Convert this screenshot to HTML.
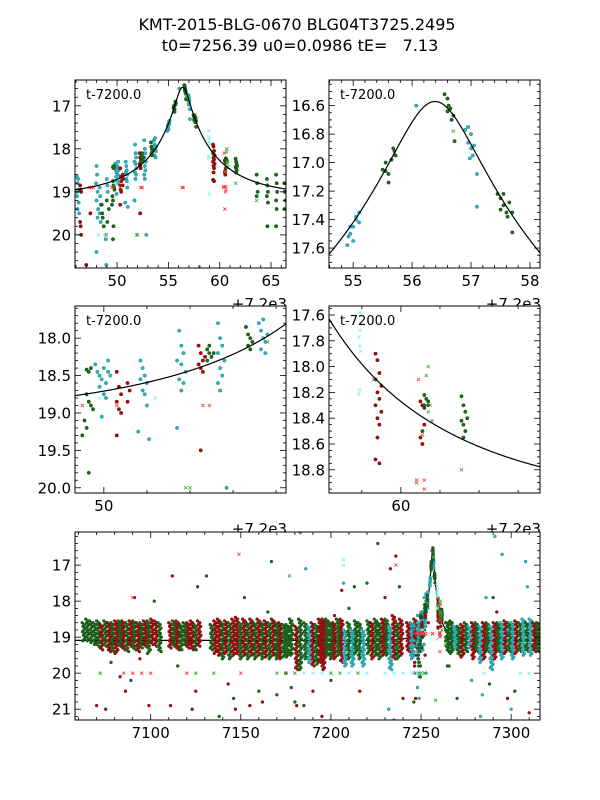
<!DOCTYPE html>
<html><head><meta charset="utf-8"><style>
html,body{margin:0;padding:0;background:#fff;}
svg{display:block;font-family:"DejaVu Sans","Liberation Sans",sans-serif;}
</style></head><body>
<svg id="fig" width="600" height="800" viewBox="0 0 600 800" xmlns="http://www.w3.org/2000/svg">
<rect width="600" height="800" fill="#fff"/>
<text x="297" y="30" font-size="16" text-anchor="middle">KMT-2015-BLG-0670 BLG04T3725.2495</text>
<text x="300" y="51" font-size="16" text-anchor="middle" xml:space="preserve">t0=7256.39 u0=0.0986 tE=   7.13</text>
</svg>
<script>
// model parameters
const t0 = 7256.39, u0 = 0.0986, tE = 7.13, mBase = 19.09;
// event points (t-7200, mag)
const cyanPts = [[46.1,18.65],[46.15,18.8],[46.2,18.95],[46.1,19.1],[46.25,19.25],[46.15,19.4],[46.2,18.7],[46.1,19.0],[46.3,19.5],
[48.0,18.4],[48.05,18.6],[47.95,18.8],[48.1,19.0],[48.0,19.2],[48.15,19.4],[48.1,19.6],[48.0,20.4],
[48.3,18.9],[48.35,19.1],[48.4,19.3],[48.3,19.5],[48.4,19.7],[48.9,20.1],[48.95,20.7],
[49.0,18.7],[49.05,18.85],[49.1,19.0],
[49.8,18.35],[49.85,18.45],[49.9,18.5],[49.95,18.55],[50.0,18.4],[50.05,18.6],[50.1,18.3],[50.15,18.5],[49.9,18.65],[50.0,18.75],[50.1,18.45],[50.05,18.8],[49.95,19.05],
[50.85,18.3],[50.9,18.4],[50.95,18.5],[50.85,18.55],[51.0,18.6],[50.9,18.7],[50.95,18.75],[51.0,18.9],[50.8,19.25],[51.05,19.35],
[51.75,17.9],[51.8,18.1],[51.85,18.2],[51.7,18.3],[51.8,18.35],[51.9,18.45],[51.75,18.55],[51.85,18.6],[51.8,18.7],[51.7,19.2],
[52.65,17.8],[52.7,18.0],[52.75,18.1],[52.65,18.2],[52.8,18.3],[52.7,18.4],[52.75,18.5],[52.65,18.6],[52.7,18.7],[52.85,20.0],
[53.6,17.8],[53.65,17.9],[53.7,18.0],[53.75,18.05],[53.8,17.95],[53.65,18.15],[53.75,18.2],[53.7,17.75],
[54.9,17.58],[54.95,17.5],[55.0,17.45],[55.05,17.4],[55.1,17.35],[54.95,17.45],[55.0,17.55],[55.05,17.38],[55.1,17.42],[54.92,17.52],
[56.07,16.6],[56.9,16.77],[56.95,16.75],[57.0,16.8],[56.95,16.86],[57.0,16.9],[57.03,16.95],[56.98,16.97],[57.05,16.88],[57.1,17.08],[57.1,17.31]];
const redPts = [[46.4,18.85],[46.45,18.95],[46.5,19.0],[46.4,19.7],[46.45,19.8],[46.5,20.0],[47.0,20.7],[47.4,19.5],
[50.3,18.45],[50.35,18.65],[50.4,18.75],[50.3,18.85],[50.35,18.95],[50.4,19.0],[50.3,19.3],[50.55,18.6],[50.6,18.7],[50.55,18.85],
[52.2,18.1],[52.25,18.2],[52.3,18.3],[52.2,18.35],[52.25,18.4],[52.3,18.45],[52.35,18.25],[52.25,19.5],
[59.35,17.9],[59.4,17.95],[59.45,18.05],[59.35,18.1],[59.5,18.15],[59.4,18.2],[59.45,18.25],[59.35,18.3],[59.5,18.35],[59.4,18.4],[59.45,18.45],[59.4,18.55],[59.35,18.72],[59.45,18.75],
[60.5,18.27],[60.55,18.3],[60.5,18.55],[60.55,18.6],[60.6,18.45],[60.6,18.32]];
const greenPts = [[48.5,19.3],[48.6,19.6],[48.7,19.8],[48.55,19.5],[49.0,19.2],[49.2,19.4],[49.05,19.7],
[49.6,18.42],[49.65,18.45],[49.7,18.4],[49.6,18.75],[49.65,18.85],[49.7,18.9],[49.75,18.95],[49.55,19.1],[49.6,19.2],[49.5,19.3],[49.65,19.8],[49.6,20.1],
[52.4,18.15],[52.45,18.2],[52.5,18.25],[52.4,18.3],[52.45,18.1],[52.55,18.2],
[53.3,17.85],[53.35,17.95],[53.4,18.0],[53.45,18.05],[53.35,18.1],[53.4,18.15],
[55.5,17.05],[55.55,17.0],[55.6,17.08],[55.65,16.98],[55.7,16.92],[55.68,16.9],[55.6,17.14],[55.55,17.06],[55.72,16.95],
[56.55,16.52],[56.6,16.55],[56.62,16.6],[56.65,16.62],[56.7,16.67],[56.67,16.7],[56.6,16.64],[56.72,16.85],
[57.45,17.22],[57.5,17.25],[57.55,17.3],[57.6,17.35],[57.65,17.28],[57.7,17.35],[57.55,17.22],[57.62,17.38],[57.5,17.33],[57.7,17.49],
[60.6,18.22],[60.65,18.25],[60.7,18.3],[60.6,18.3],[60.55,18.5],[60.7,18.27],
[61.55,18.23],[61.6,18.3],[61.65,18.35],[61.55,18.42],[61.6,18.45],[61.7,18.4],[61.65,18.5],[61.6,18.55],
[63.6,18.6],[63.65,18.8],[63.7,19.0],[63.6,19.1],[64.6,18.7],[64.65,18.85],[64.7,19.0],[64.6,19.1],[64.7,19.25],[64.65,19.8],
[65.5,18.6],[65.55,18.8],[65.6,19.0],[65.5,19.2],[65.55,19.4],[65.5,19.8],[66.3,18.8],[66.35,19.0],[66.4,19.2],[66.3,19.4]];
const redXPts = [[47.3,18.9],[47.5,18.9],[47.7,18.9],[49.5,18.9],[50.3,18.9],[52.3,18.9],[52.45,18.9],[56.35,18.9],[56.45,18.9],[60.4,18.9],[60.6,18.95],[60.55,19.0],[60.5,19.4],[60.45,18.1],[60.55,18.53],[60.4,18.88],[60.6,18.88]];
const cyanXPts = [[46.2,20.0],[48.2,20.0],[48.8,20.0],[48.9,20.0],[58.95,17.58],[58.95,17.72],[58.92,17.77],[58.95,17.84],[58.97,17.88],[58.95,18.18],[58.92,18.21],[59.0,19.05],[49.9,18.8],[51.2,18.8]];
const greenXPts = [[48.95,20.0],[51.9,20.0],[52.0,20.0],[60.7,18.0],[60.65,18.07],[60.75,18.3],[60.7,18.35],[60.8,18.42],[61.55,18.8],[63.6,19.2],[56.7,16.78],[58.05,20.75],[59.3,18.1],[53.8,18.05]];
// full-season baseline columns: [t, centre mag, half spread, series 0=cyan 1=red 2=green]
const bandCols = [[7062,18.85,.25,2],[7064,18.8,.3,2],[7066,18.85,.3,2],[7068,18.9,.3,2],[7070,18.9,.35,2],[7072,19.0,.35,1],[7074,18.9,.35,2],[7076,19.0,.4,1],[7078,19.0,.4,2],[7080,19.0,.45,1],[7082,18.9,.35,2],[7084,18.95,.4,1],[7086,19.0,.4,2],[7088,18.9,.35,1],[7090,18.95,.4,2],[7092,19.0,.4,1],[7094,18.95,.35,2],[7096,18.9,.35,1],[7098,19.0,.45,2],[7100,18.85,.35,1],[7102,18.9,.35,1],[7104,19.0,.4,2],
[7110,18.95,.35,1],[7112,18.9,.35,2],[7114,18.95,.4,1],[7116,19.0,.35,2],[7118,18.9,.3,2],[7120,18.95,.35,1],[7122,18.95,.4,1],[7124,19.0,.35,2],[7126,18.9,.35,1],
[7133,19.0,.35,2],[7135,19.0,.45,1],[7137,19.0,.5,1],[7139,19.1,.5,2],[7141,19.0,.45,1],[7143,19.1,.5,2],[7145,19.0,.5,1],[7147,18.95,.5,1],[7149,19.1,.5,2],[7151,19.0,.5,1],[7153,19.1,.5,2],[7155,19.0,.5,1],[7157,19.1,.5,2],[7159,19.0,.5,1],[7161,19.1,.5,2],[7163,19.05,.5,1],[7165,19.1,.5,2],[7167,19.0,.5,1],[7169,19.1,.5,2],[7171,19.1,.5,1],[7173,19.1,.45,2],[7175,19.1,.45,2],[7177,19.0,.5,2],[7180,19.3,.6,1],[7182,19.2,.7,2],
[7185,19.1,.5,2],[7187,19.2,.5,0],[7189,19.2,.6,1],[7191,19.2,.55,2],[7193,19.1,.6,1],[7195,19.2,.7,1],[7197,19.0,.5,2],[7199,19.1,.5,2],[7201,19.1,.5,1],[7203,19.0,.5,2],[7205,19.1,.6,1],[7207,19.3,.5,0],[7209,19.1,.5,2],[7211,19.3,.5,0],[7213,19.0,.45,2],[7215,19.1,.5,2],[7217,19.3,.5,0],
[7220,19.0,.45,2],[7222,19.1,.5,1],[7224,19.0,.5,2],[7226,19.1,.5,2],[7228,19.0,.5,1],[7230,19.0,.5,2],[7232,19.3,.6,0],[7234,19.0,.6,1],[7236,19.1,.5,2],[7238,19.0,.5,1],
[7242,19.0,.4,1],[7244,19.1,.5,0],[7246,18.9,.4,1],[7248,19.0,.4,0],[7250,18.7,.3,2],
[7264,19.0,.4,2],[7266,19.0,.45,2],[7268,19.0,.3,0],[7270,19.1,.4,2],[7272,19.1,.45,1],[7274,19.0,.4,2],[7276,19.0,.3,0],[7278,19.1,.5,1],[7280,19.0,.4,2],[7282,19.2,.5,0],[7284,19.1,.5,1],[7286,19.0,.4,2],[7288,19.3,.6,0],[7290,19.1,.5,1],[7292,19.0,.4,2],[7294,19.1,.5,0],[7296,19.0,.45,1],[7298,19.0,.4,2],[7300,19.1,.5,0],[7302,19.0,.45,1],[7304,19.0,.4,2],[7306,19.0,.5,0],[7308,19.0,.4,2],[7310,19.0,.5,0],[7312,19.0,.4,1],[7314,19.0,.4,2]];
// scattered outliers on full season: [t, mag, series]
const seasonOutliers = [[7070,20.9,1],[7075,21.0,1],[7078,19.7,2],[7083,20.1,1],[7086,20.5,1],[7089,20.2,2],[7091,17.9,1],[7094,19.6,1],[7099,20.9,1],[7102,18.0,2],[7111,20.9,1],[7112,17.3,1],[7115,19.8,2],[7123,21.0,1],[7126,17.6,2],[7125,20.5,1],[7131,17.3,2],[7138,21.2,2],[7143,20.3,1],[7146,20.7,2],[7147,21.0,1],[7152,17.9,2],[7155,20.9,1],[7160,20.5,2],[7162,20.8,1],[7165,18.3,2],[7167,16.9,2],[7170,20.6,2],[7175,20.0,1],[7178,20.4,2],[7180,20.8,2],[7181,20.9,1],[7186,17.1,0],[7183,16.1,0],[7185,20.9,2],[7190,20.5,1],[7195,21.2,1],[7200,20.2,2],[7202,18.4,1],[7207,17.5,0],[7206,17.7,1],[7210,18.2,2],[7213,17.6,2],[7216,20.5,1],[7220,17.5,2],[7226,16.4,2],[7230,17.9,1],[7233,17.1,1],[7236,16.75,1],[7235,21.3,0],[7232,21.0,0],[7238,17.6,2],[7240,20.7,1],[7244,18.6,0],[7246,20.8,2],[7283,21.2,0],[7286,17.9,0],[7290,17.9,2],[7292,18.3,1],[7295,16.7,0],[7298,18.8,0],[7308,16.9,0],[7309,17.6,0],[7291,16.2,0],[7298,20.7,1],[7302,20.5,2],[7310,21.1,1],[7270,20.7,2],[7288,20.3,2],[7278,20.2,0],[7284,20.6,0],[7300,21.0,0],[7253,18.3,2],[7254,18.6,1],[7252,18.5,0],[7260,18.5,1],[7261,18.7,1]];
// x-marker row on full season: [t, mag, series]
const seasonX = [[7072,20.0,2],[7085,20.0,1],[7090,20.0,1],[7095,20.0,1],[7100,20.0,1],[7120,20.0,1],[7125,20.0,2],[7135,20.0,2],[7150,20.0,1],[7170,20.0,2],[7175,20.0,2],[7180,20.0,2],[7185,20.0,0],[7190,20.0,0],[7195,20.0,0],[7200,20.0,2],[7205,20.0,2],[7210,20.0,0],[7215,20.0,2],[7220,20.0,0],[7230,20.0,0],[7235,20.0,0],[7240,20.0,0],[7245,20.0,0],[7250,20.0,2],[7285,20.0,0],[7305,20.0,0],[7310,20.0,0],[7149,16.7,1],[7207,17.0,0],[7207,16.85,0],[7236,17.0,1],[7177,17.3,2],[7090,17.9,1]];

const NS = 'http://www.w3.org/2000/svg';
const svg = document.getElementById('fig');
const fills = ['#2fb3bd','#a30f0f','#1d6b1d'];
const strokes = ['#1d8d96','#7a0a0a','#124d12'];
const xcols = ['#80f0f0','#ff3a3a','#3aa53a'];

function mk(tag, attrs, parent){ const e=document.createElementNS(NS,tag); for(const k in attrs) e.setAttribute(k,attrs[k]); (parent||svg).appendChild(e); return e; }

function model(t){ const tau=(t-t0)/tE; const u=Math.sqrt(u0*u0+tau*tau); const A=(u*u+2)/(u*Math.sqrt(u*u+4)); return mBase-2.5*Math.log10(A); }

const panels = [
 {name:'zoom-panel',x0:75,y0:80,w:211,h:188,tmin:45.9,tmax:66.46,mtop:16.40,mbot:20.77,off:7200,xM:5,xm:1,yM:1,ym:0.2,dec:0},
 {name:'peak-panel',x0:329,y0:80,w:211,h:188,tmin:54.59,tmax:58.17,mtop:16.42,mbot:17.74,off:7200,xM:1,xm:0.2,yM:0.2,ym:0.05,dec:1},
 {name:'rise-panel',x0:75,y0:306,w:211,h:187,tmin:49.33,tmax:54.23,mtop:17.57,mbot:20.07,off:7200,xM:5,xm:1,yM:0.5,ym:0.1,dec:1},
 {name:'decline-panel',x0:329,y0:306,w:211,h:187,tmin:58.16,tmax:63.56,mtop:17.53,mbot:18.98,off:7200,xM:5,xm:1,yM:0.2,ym:0.05,dec:1},
 {name:'season-panel',x0:75,y0:532,w:465,h:188,tmin:7058,tmax:7316,mtop:16.08,mbot:21.3,off:0,xM:50,xm:10,yM:1,ym:0.2,dec:0}
];

panels.forEach((p,i)=>{
 const sx = t => p.x0+(t-p.tmin)/(p.tmax-p.tmin)*p.w;
 const sy = m => p.y0+(m-p.mtop)/(p.mbot-p.mtop)*p.h;
 const g = mk('g',{});
 
 
 const bg = mk('rect',{x:p.x0,y:p.y0,width:p.w,height:p.h,fill:'#fff'},g);
 
 
 const cp = mk('clipPath',{id:'clip'+i},g); mk('rect',{x:p.x0,y:p.y0,width:p.w,height:p.h},cp);
 const dg = mk('g',{'clip-path':'url(#clip'+i+')'},g);
 
 
 const abs = p.off===0 ? 7200 : 0;
 const rr = p.off===0 ? 1.45 : 1.7;
 function dot(t,m,s){ const c=mk('circle',{cx:sx(t).toFixed(2),cy:sy(m).toFixed(2),r:rr,fill:fills[s],stroke:strokes[s],'stroke-width':0.5},dg);
   
    }
 function xm(t,m,s){ const X=sx(t),Y=sy(m),d=1.6; const pth=mk('path',{d:`M${X-d},${Y-d}L${X+d},${Y+d}M${X-d},${Y+d}L${X+d},${Y-d}`,stroke:xcols[s],'stroke-width':0.8,fill:'none'},dg);
   
    }
 function curve(){
   let d=''; const N=400; for(let k=0;k<=N;k++){ const t=p.tmin+(p.tmax-p.tmin)*k/N; const m=model(t+(p.off?7200:0)); d+=(k?'L':'M')+sx(t).toFixed(2)+','+sy(m).toFixed(2); }
   const cv = mk('path',{d:d,fill:'none',stroke:'#000','stroke-width':1.2},dg);
   
   
 }
 if(p.off===0){
   curve();
   bandCols.forEach(c=>{ const [t,ctr,s,col]=c; let k=0; for(let m=ctr-s;m<=ctr+s+1e-9;m+=0.05){ dot(t+((k*0.618)%1)*2.0,m,col); k++; } });
   seasonOutliers.forEach(o=>dot(o[0],o[1],o[2]));
   seasonX.forEach(o=>xm(o[0],o[1],o[2]));
 }
 [[cyanPts,0],[redPts,1],[greenPts,2]].forEach(([arr,s])=>arr.forEach(q=>dot(q[0]+abs,q[1],s)));
 [[cyanXPts,0],[redXPts,1],[greenXPts,2]].forEach(([arr,s])=>arr.forEach(q=>xm(q[0]+abs,q[1],s)));
 if(p.off!==0) curve();
 const fr = mk('rect',{x:p.x0,y:p.y0,width:p.w,height:p.h,fill:'none',stroke:'#000','stroke-width':1},g);
 
 
 const tk = mk('g',{stroke:'#000','stroke-width':0.8},g);
 
 
 const eps=1e-6;
 for(let v=Math.ceil(p.tmin/p.xm-eps)*p.xm; v<=p.tmax+eps; v+=p.xm){
   const major = Math.abs(v/p.xM-Math.round(v/p.xM))<1e-4; const L=major?6:3; const X=sx(v);
   mk('line',{x1:X,x2:X,y1:p.y0+p.h,y2:p.y0+p.h-L},tk); mk('line',{x1:X,x2:X,y1:p.y0,y2:p.y0+L},tk);
   if(major){ const lb=mk('text',{x:X,y:p.y0+p.h+18,'font-size':15,'text-anchor':'middle',stroke:'none',fill:'#000'},g); lb.textContent=Math.round(v).toString();
     
      }
 }
 for(let v=Math.ceil(p.mtop/p.ym-eps)*p.ym; v<=p.mbot+eps; v+=p.ym){
   const major = Math.abs(v/p.yM-Math.round(v/p.yM))<1e-4; const L=major?6:3; const Y=sy(v);
   mk('line',{x1:p.x0,x2:p.x0+L,y1:Y,y2:Y},tk); mk('line',{x1:p.x0+p.w,x2:p.x0+p.w-L,y1:Y,y2:Y},tk);
   if(major){ const lb=mk('text',{x:p.x0-4,y:Y+5.5,'font-size':15,'text-anchor':'end',stroke:'none',fill:'#000'},g); lb.textContent=v.toFixed(p.dec);
     
      }
 }
 if(p.off){
   const ol=mk('text',{x:p.x0+p.w+1,y:p.y0+p.h+41,'font-size':15,'text-anchor':'end'},svg); ol.textContent='+7.2e3';
   
   
   const tl=mk('text',{x:p.x0+11,y:p.y0+19,'font-size':13},g); tl.textContent='t-7200.0';
   
   
 }
});
</script>
</body></html>
